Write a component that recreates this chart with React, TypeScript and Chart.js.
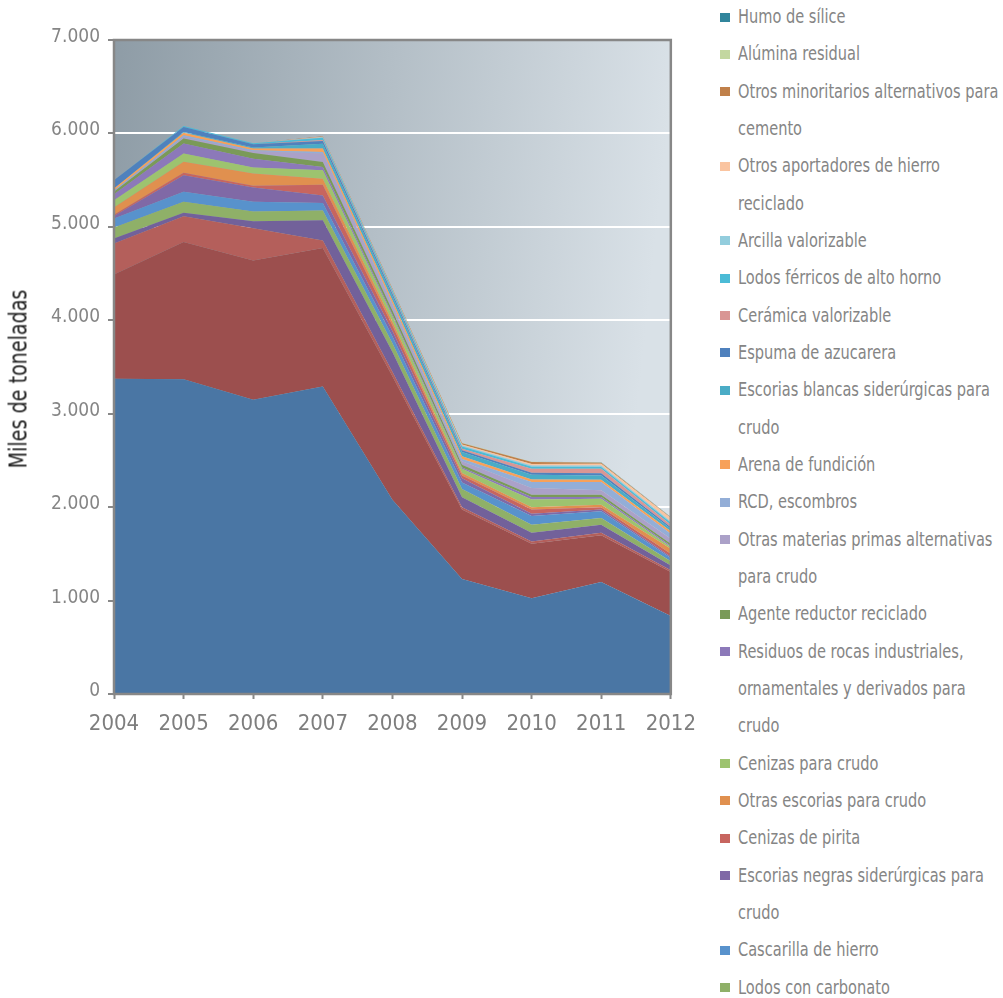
import React, { useEffect, useRef } from "react";
import { Chart, registerables } from "chart.js";

Chart.register(...registerables);

// ---------- DATA ----------
const years = ["2004", "2005", "2006", "2007", "2008", "2009", "2010", "2011", "2012"];
const yTickValues = [0, 1000, 2000, 3000, 4000, 5000, 6000, 7000];
const yAxisTitle = "Miles de toneladas";

// series, from the bottom of the stack upwards (miles de toneladas)
const cenizasVolantes = [3374, 3370, 3150, 3290, 2080, 1230, 1026, 1198, 835];
const escoriasHornoAlto = [1115, 1469, 1490, 1485, 1320, 745, 582, 500, 470];
const yesoArtificial = [333, 274, 345, 80, 50, 25, 25, 28, 20];
const escoriasHornoAltoCrudo = [53, 37, 75, 215, 210, 105, 93, 86, 50];
const lodosCarbonato = [118, 118, 105, 105, 95, 90, 86, 71, 45];
const cascarillaHierro = [97, 107, 105, 80, 75, 70, 92, 72, 35];
const escoriasNegras = [25, 178, 150, 80, 55, 45, 26, 20, 15];
const cenizasPirita = [15, 25, 20, 115, 60, 30, 46, 25, 30];
const otrasEscorias = [77, 118, 130, 65, 40, 25, 24, 25, 55];
const cenizasCrudo = [78, 89, 65, 90, 60, 45, 83, 65, 18];
const residuosRocas = [65, 107, 95, 35, 20, 15, 25, 18, 15];
const agenteReductor = [25, 54, 60, 55, 40, 30, 25, 25, 20];
const otrasMaterias = [5, 15, 20, 90, 55, 35, 71, 47, 54];
const rcdEscombros = [10, 20, 10, 15, 20, 25, 64, 88, 54];
const arenaFundicion = [20, 25, 20, 40, 35, 30, 29, 25, 25];
const escoriasBlancas = [0, 10, 10, 50, 45, 45, 50, 47, 28];
const espumaAzucarera = [90, 54, 35, 30, 25, 20, 20, 22, 15];
const ceramicaValorizable = [0, 0, 0, 10, 10, 15, 45, 50, 28];
const lodosFerricos = [0, 10, 10, 25, 25, 25, 20, 18, 20];
const arcillaValorizable = [0, 0, 0, 5, 5, 10, 15, 15, 15];
const otrosAportadores = [0, 0, 0, 5, 5, 10, 15, 20, 36];
const otrosMinoritarios = [0, 0, 0, 5, 10, 15, 20, 10, 7];
const aluminaResidual = [0, 0, 0, 0, 0, 3, 3, 3, 3];
const humoSilice = [0, 0, 0, 0, 0, 2, 2, 2, 2];

// legend texts ("\n" = line break as in the legend)
const seriesNames = [
  "Cenizas volantes",
  "Escorias de horno alto",
  "Yeso artificial",
  "Escorias de horno alto para\ncrudo",
  "Lodos con carbonato",
  "Cascarilla de hierro",
  "Escorias negras siderúrgicas para\ncrudo",
  "Cenizas de pirita",
  "Otras escorias para crudo",
  "Cenizas para crudo",
  "Residuos de rocas industriales,\nornamentales y derivados para\ncrudo",
  "Agente reductor reciclado",
  "Otras materias primas alternativas\npara crudo",
  "RCD, escombros",
  "Arena de fundición",
  "Escorias blancas siderúrgicas para\ncrudo",
  "Espuma de azucarera",
  "Cerámica valorizable",
  "Lodos férricos de alto horno",
  "Arcilla valorizable",
  "Otros aportadores de hierro\nreciclado",
  "Otros minoritarios alternativos para\ncemento",
  "Alúmina residual",
  "Humo de sílice",
];

const seriesValues = [
  cenizasVolantes, escoriasHornoAlto, yesoArtificial, escoriasHornoAltoCrudo,
  lodosCarbonato, cascarillaHierro, escoriasNegras, cenizasPirita,
  otrasEscorias, cenizasCrudo, residuosRocas, agenteReductor,
  otrasMaterias, rcdEscombros, arenaFundicion, escoriasBlancas,
  espumaAzucarera, ceramicaValorizable, lodosFerricos, arcillaValorizable,
  otrosAportadores, otrosMinoritarios, aluminaResidual, humoSilice,
];

const seriesColors = [
  "#4a76a4", "#9c4f4e", "#b45f5b", "#72619a",
  "#8fb068", "#5892cc", "#8069a6", "#c7655f",
  "#e0904f", "#9dc36f", "#8c79b9", "#7a9a58",
  "#aba1c8", "#93aed7", "#f7a15a", "#4aacc6",
  "#4f81bd", "#d99694", "#4bbbd6", "#93cddd",
  "#fac4a0", "#c0804a", "#c3d7a0", "#31859c",
];

// ---------- STYLE ----------
const FONT = "'Liberation Sans Narrow', 'Arial Narrow', 'DejaVu Sans Condensed', sans-serif";

const formatThousands = (v: number) =>
  String(v).replace(/\B(?=(\d{3})+(?!\d))/g, ".");

const plotDecor = {
  id: "plotDecor",
  beforeDraw(chart: any) {
    const { ctx, chartArea: a } = chart;
    if (!a) return;
    const g = ctx.createLinearGradient(a.left, a.top, a.right, a.top + 60);
    g.addColorStop(0, "#8e9ca6");
    g.addColorStop(1, "#d9e1e7");
    ctx.save();
    ctx.fillStyle = g;
    ctx.fillRect(a.left, a.top, a.right - a.left, a.bottom - a.top);
    ctx.restore();
  },
  afterDatasetsDraw(chart: any) {
    const { ctx, chartArea: a } = chart;
    ctx.save();
    ctx.strokeStyle = "#878787";
    ctx.lineWidth = 2.5;
    ctx.strokeRect(a.left, a.top, a.right - a.left, a.bottom - a.top);
    ctx.restore();
  },
};

export default function App() {
  const canvasRef = useRef<HTMLCanvasElement | null>(null);

  useEffect(() => {
    if (!canvasRef.current) return;
    const chart = new Chart(canvasRef.current, {
      type: "line",
      data: {
        labels: years,
        datasets: seriesValues.map((vals, i) => ({
          label: seriesNames[i].replace(/\n/g, " "),
          data: vals,
          backgroundColor: seriesColors[i],
          borderColor: seriesColors[i],
          borderWidth: 0,
          pointRadius: 0,
          pointHoverRadius: 0,
          tension: 0,
          fill: i === 0 ? "origin" : "-1",
        })),
      },
      options: {
        responsive: false,
        maintainAspectRatio: false,
        animation: false,
        layout: { padding: { top: 40, right: 22, left: 0, bottom: 0 } },
        plugins: {
          legend: { display: false },
          tooltip: { enabled: false },
          title: { display: false },
        },
        scales: {
          x: {
            type: "category",
            offset: false,
            border: { display: false },
            grid: {
              drawOnChartArea: false,
              drawTicks: true,
              tickLength: 5,
              tickWidth: 2,
              tickColor: "#888888",
            },
            ticks: {
              color: "#7e7e7e",
              font: { family: FONT, size: 22 },
              padding: 12,
              maxRotation: 0,
              autoSkip: false,
            },
            afterFit: (s: any) => {
              s.height = 66;
            },
          },
          y: {
            stacked: true,
            min: yTickValues[0],
            max: yTickValues[yTickValues.length - 1],
            border: { display: false },
            afterBuildTicks: (s: any) => {
              s.ticks = yTickValues.map((v) => ({ value: v }));
            },
            grid: {
              color: "#ffffff",
              lineWidth: 2,
              drawTicks: true,
              tickLength: 6,
              tickWidth: 2,
              tickColor: "#888888",
            },
            ticks: {
              color: "#858585",
              font: { family: FONT, size: 19 },
              padding: 8,
              labelOffset: -3,
              callback: (v: any) => formatThousands(Number(v)),
            },
            afterFit: (s: any) => {
              s.width = 114;
            },
          },
        },
      },
      plugins: [plotDecor],
    });
    return () => chart.destroy();
  }, []);

  const legendItems = seriesNames
    .map((name, i) => ({ name, color: seriesColors[i] }))
    .reverse();

  return (
    <div
      style={{
        position: "fixed",
        left: 0,
        top: 0,
        width: 1003,
        height: 998,
        overflow: "hidden",
        background: "#ffffff",
      }}
    >
      <canvas
        ref={canvasRef}
        width={708}
        height={760}
        style={{ position: "absolute", left: 0, top: 0, width: 708, height: 760 }}
      />
      <div
        style={{
          position: "absolute",
          left: 18,
          top: 379,
          transform: "translate(-50%, -50%) rotate(-90deg) scaleX(0.85)",
          whiteSpace: "nowrap",
          fontFamily: FONT,
          fontSize: 25,
          color: "#222222",
          lineHeight: 1,
        }}
      >
        {yAxisTitle}
      </div>
      <div style={{ position: "absolute", left: 720, top: -2 }}>
        {legendItems.map((it) => (
          <div
            key={it.name}
            style={{
              position: "relative",
              paddingLeft: 18,
              fontFamily: FONT,
              fontSize: 20,
              lineHeight: "37.33px",
              color: "#858585",
            }}
          >
            <span
              style={{
                position: "absolute",
                left: 0,
                top: 14.5,
                width: 10,
                height: 9,
                background: it.color,
              }}
            />
            <div
              style={{
                whiteSpace: "pre",
                transform: "scaleX(0.81)",
                transformOrigin: "0 0",
              }}
            >
              {it.name}
            </div>
          </div>
        ))}
      </div>
    </div>
  );
}
